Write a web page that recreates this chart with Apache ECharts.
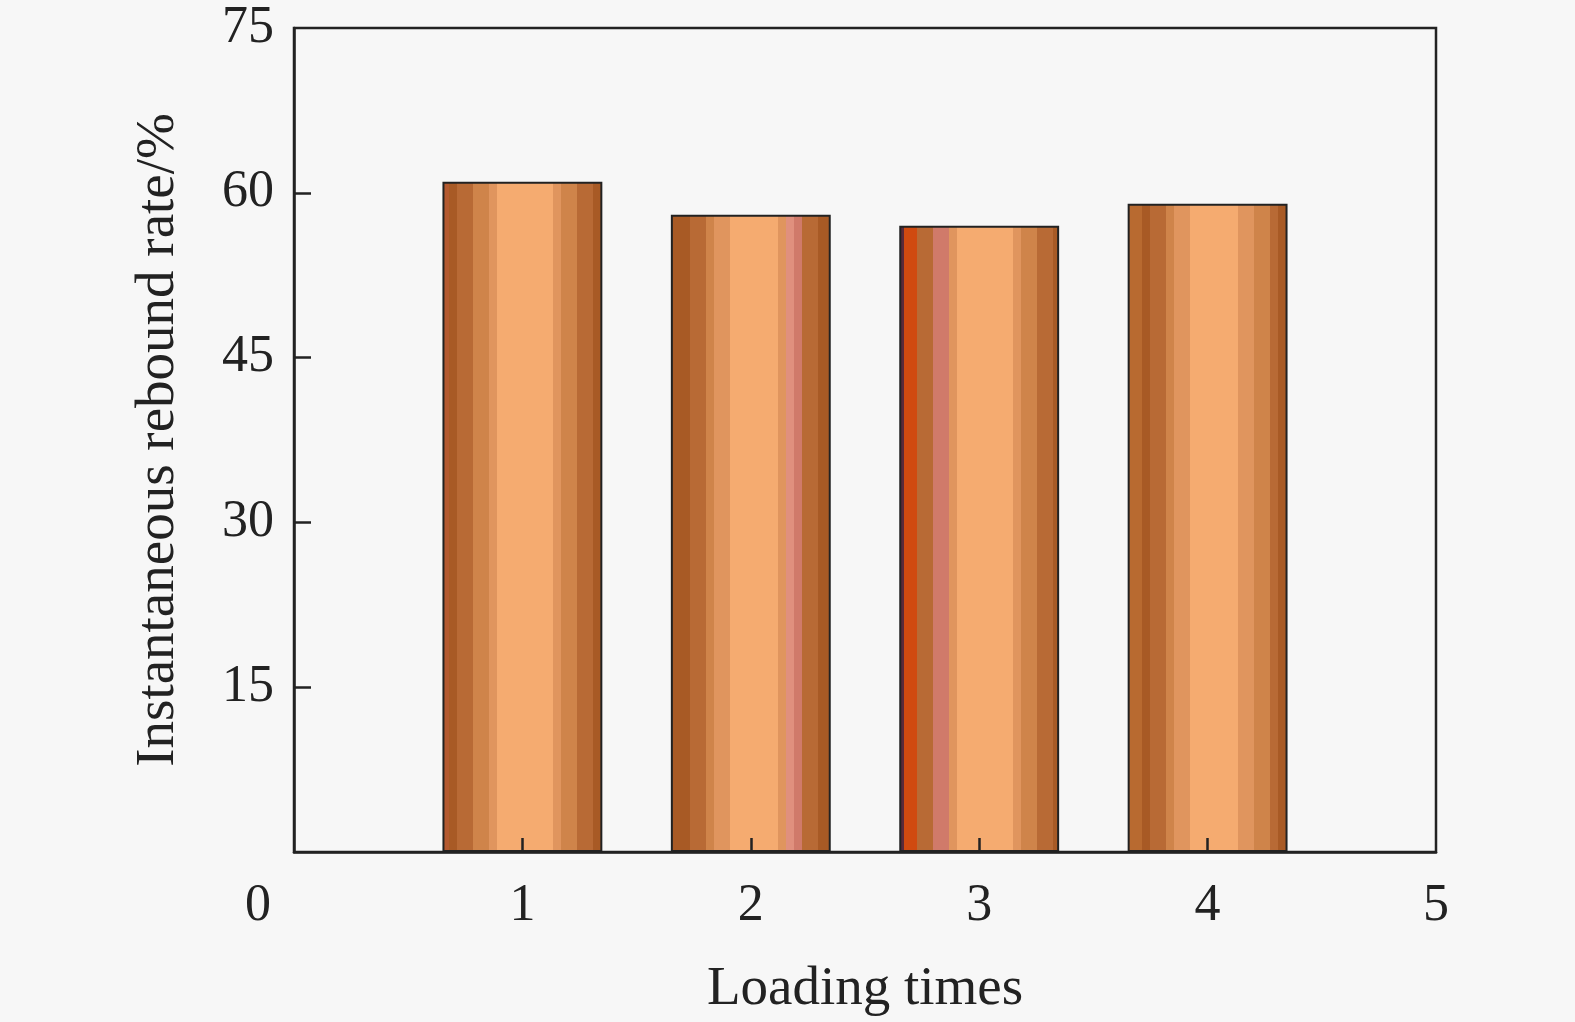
<!DOCTYPE html>
<html>
<head>
<meta charset="utf-8">
<script src="https://cdn.jsdelivr.net/npm/echarts@6/dist/echarts.min.js"></script>
<style>
html,body{margin:0;padding:0;background:#f7f7f7;}
#c{width:1575px;height:1022px;}
</style>
</head>
<body>
<div id="c"></div>
<script>
// ---- data ----
const loadingTimes = [1, 2, 3, 4];
const reboundRate = [61, 58, 57, 59];
const xTickLabels = ['0', '1', '2', '3', '4', '5'];
const yTickLabels = ['0', '15', '30', '45', '60', '75'];

// ---- styles (stripe colours per bar) ----
const D = '#a85a25', B = '#b86a35', C = '#cf844a', E = '#e0955e', L = '#f5ab70', P = '#e0907e', Q = '#d07a6a', R = '#d04a10';
const stripeSets = [
  [[0, '#b45a30'], [0.04, D], [0.09, B], [0.19, C], [0.29, E], [0.34, L], [0.69, E], [0.74, C], [0.84, B], [0.94, D], [1, D]],
  [[0, D], [0.12, B], [0.22, C], [0.27, E], [0.37, L], [0.67, E], [0.72, P], [0.77, Q], [0.82, B], [0.92, D], [1, D]],
  [[0, '#5a2a3a'], [0.03, R], [0.11, B], [0.21, Q], [0.31, E], [0.36, L], [0.71, E], [0.76, C], [0.86, B], [0.96, D], [1, D]],
  [[0, '#b86a30'], [0.09, D], [0.14, B], [0.24, C], [0.29, E], [0.39, L], [0.69, E], [0.79, C], [0.89, B], [0.94, D], [1, D]]
];
function stripes(set) {
  const stops = [];
  for (let i = 0; i < set.length - 1; i++) {
    stops.push({ offset: set[i][0], color: set[i][1] });
    stops.push({ offset: set[i + 1][0], color: set[i][1] });
  }
  return { type: 'linear', x: 0, y: 0, x2: 1, y2: 0, colorStops: stops };
}

const font = 'Liberation Serif, Times New Roman, serif';
const chart = echarts.init(document.getElementById('c'));
chart.setOption({
  backgroundColor: '#f7f7f7',
  animation: false,
  grid: { left: 294, right: 139, top: 28, bottom: 167, show: true, borderColor: '#222', borderWidth: 2.5, backgroundColor: 'transparent' },
  xAxis: {
    type: 'value', min: 0, max: 5, interval: 1, z: 5,
    name: 'Loading times', nameLocation: 'middle', nameGap: 110,
    nameTextStyle: { fontFamily: font, fontSize: 55, color: '#222' },
    axisLine: { show: true, lineStyle: { color: '#222', width: 2.5 } },
    axisTick: { show: true, inside: true, length: 14, customValues: loadingTimes, lineStyle: { color: '#222', width: 2.5 } },
    splitLine: { show: false },
    axisLabel: {
      fontFamily: font, fontSize: 52, color: '#222', margin: 28,
      formatter: function (v) { const t = xTickLabels[Math.round(v)]; return v === 0 ? '{z|' + t + '}' : t; },
      rich: { z: { fontFamily: font, fontSize: 52, color: '#222', padding: [0, 72, 0, 0] } }
    }
  },
  yAxis: {
    type: 'value', min: 0, max: 75, interval: 15, z: 5,
    name: 'Instantaneous rebound rate/%', nameLocation: 'middle', nameGap: 108,
    nameTextStyle: { fontFamily: font, fontSize: 55, color: '#222' },
    axisLine: { show: true, lineStyle: { color: '#222', width: 2.5 } },
    axisTick: { show: true, inside: true, length: 17, customValues: [15, 30, 45, 60], lineStyle: { color: '#222', width: 2.5 } },
    splitLine: { show: false },
    axisLabel: {
      fontFamily: font, fontSize: 52, color: '#222', margin: 20,
      formatter: function (v) { return v === 0 ? '' : yTickLabels[Math.round(v / 15)]; }
    }
  },
  series: [{
    type: 'bar',
    barWidth: '70%',
    data: loadingTimes.map((x, i) => ({
      value: [x, reboundRate[i]],
      itemStyle: { color: stripes(stripeSets[i]) }
    })),
    itemStyle: { borderColor: '#222', borderWidth: 2 }
  }]
});
</script>
</body>
</html>
